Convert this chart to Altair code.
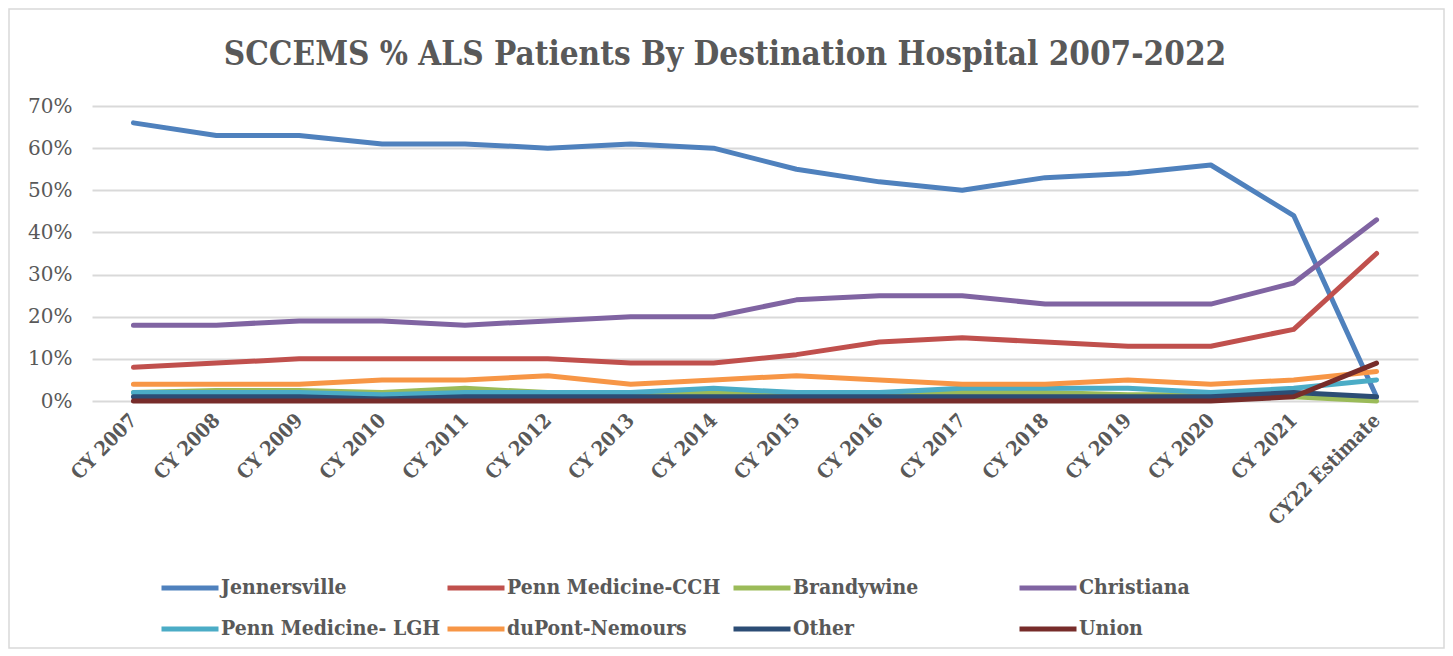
import altair as alt
import pandas as pd

categories = ["CY 2007", "CY 2008", "CY 2009", "CY 2010", "CY 2011", "CY 2012", "CY 2013", "CY 2014",
              "CY 2015", "CY 2016", "CY 2017", "CY 2018", "CY 2019", "CY 2020", "CY 2021", "CY22 Estimate"]

series_names = ["Jennersville", "Penn Medicine-CCH", "Brandywine", "Christiana",
                "Penn Medicine- LGH", "duPont-Nemours", "Other", "Union"]
series_colors = ["#4F81BD", "#C0504D", "#9BBB59", "#8064A2", "#4BACC6", "#F79646", "#2C4D75", "#772C2A"]

jennersville = [66, 63, 63, 61, 61, 60, 61, 60, 55, 52, 50, 53, 54, 56, 44, 1]
penn_cch = [8, 9, 10, 10, 10, 10, 9, 9, 11, 14, 15, 14, 13, 13, 17, 35]
brandywine = [2, 2.5, 2.5, 2, 3, 2, 2, 2, 2, 2, 2, 2, 1.5, 1.5, 1, 0]
christiana = [18, 18, 19, 19, 18, 19, 20, 20, 24, 25, 25, 23, 23, 23, 28, 43]
penn_lgh = [2, 2, 2, 1.5, 2, 2, 2, 3, 2, 2, 3, 3, 3, 2, 3, 5]
dupont = [4, 4, 4, 5, 5, 6, 4, 5, 6, 5, 4, 4, 5, 4, 5, 7]
other = [1, 1, 1, 0.5, 1, 1, 1, 1, 1, 1, 1, 1, 1, 1, 2, 1]
union = [0, 0, 0, 0, 0, 0, 0, 0, 0, 0, 0, 0, 0, 0, 1, 9]

all_values = [jennersville, penn_cch, brandywine, christiana, penn_lgh, dupont, other, union]

rows = []
for i, (name, vals) in enumerate(zip(series_names, all_values)):
    for cat, v in zip(categories, vals):
        rows.append({"year": cat, "hospital": name, "pct": v / 100.0, "ord": i})
df = pd.DataFrame(rows)

GRAY = "#595959"
FONT = "DejaVu Serif"
FONT_C = "DejaVu Serif Condensed"

lines = alt.Chart(df).mark_line(strokeWidth=5, strokeCap="round", strokeJoin="round").encode(
    x=alt.X("year:N", sort=categories, scale=alt.Scale(type="point", padding=0.5),
            axis=alt.Axis(title=None, labelAngle=-45, labelAlign="right", labelBaseline="middle",
                          labelFont=FONT_C, labelFontSize=20, labelFontWeight="bold", labelColor=GRAY,
                          ticks=False, domain=False, grid=False, labelPadding=16)),
    y=alt.Y("pct:Q", scale=alt.Scale(domain=[0, 0.7]),
            axis=alt.Axis(title=None, format=".0%", values=[0, 0.1, 0.2, 0.3, 0.4, 0.5, 0.6, 0.7],
                          labelFont=FONT, labelFontSize=20, labelColor=GRAY, ticks=False, domain=False,
                          gridColor="#D9D9D9", gridWidth=2, labelPadding=20)),
    color=alt.Color("hospital:N", sort=series_names,
                    scale=alt.Scale(domain=series_names, range=series_colors),
                    legend=alt.Legend(title=None, orient="none", legendX=67, legendY=451,
                                      direction="horizontal",
                                      columns=4, symbolType="stroke", symbolSize=3249,
                                      symbolStrokeWidth=5, labelFont=FONT_C, labelFontSize=21,
                                      labelFontWeight="bold", labelColor=GRAY, labelLimit=400,
                                      gridAlign="all", columnPadding=-4, rowPadding=-4,
                                      labelOffset=0)),
    order=alt.Order("ord:Q"),
)

frame = alt.Chart(pd.DataFrame({"a": [0]})).mark_rect(
    fill="transparent", stroke="#D9D9D9", strokeWidth=1.5, clip=False
).encode(x=alt.value(-83), x2=alt.value(1352), y=alt.value(-97), y2=alt.value(542))

chart = alt.layer(frame, lines).properties(
    width=1326, height=295,
    padding={"left": 84, "top": 98, "right": 27, "bottom": 249},
    autosize=alt.AutoSizeParams(type="none"),
    title=alt.TitleParams("SCCEMS % ALS Patients By Destination Hospital 2007-2022",
                          font=FONT_C, fontSize=33, fontWeight="bold", color=GRAY,
                          anchor="middle", offset=-64, dx=-30),
).configure_view(stroke=None)

chart.save("out.html", embed_options={"renderer": "svg", "actions": False})
